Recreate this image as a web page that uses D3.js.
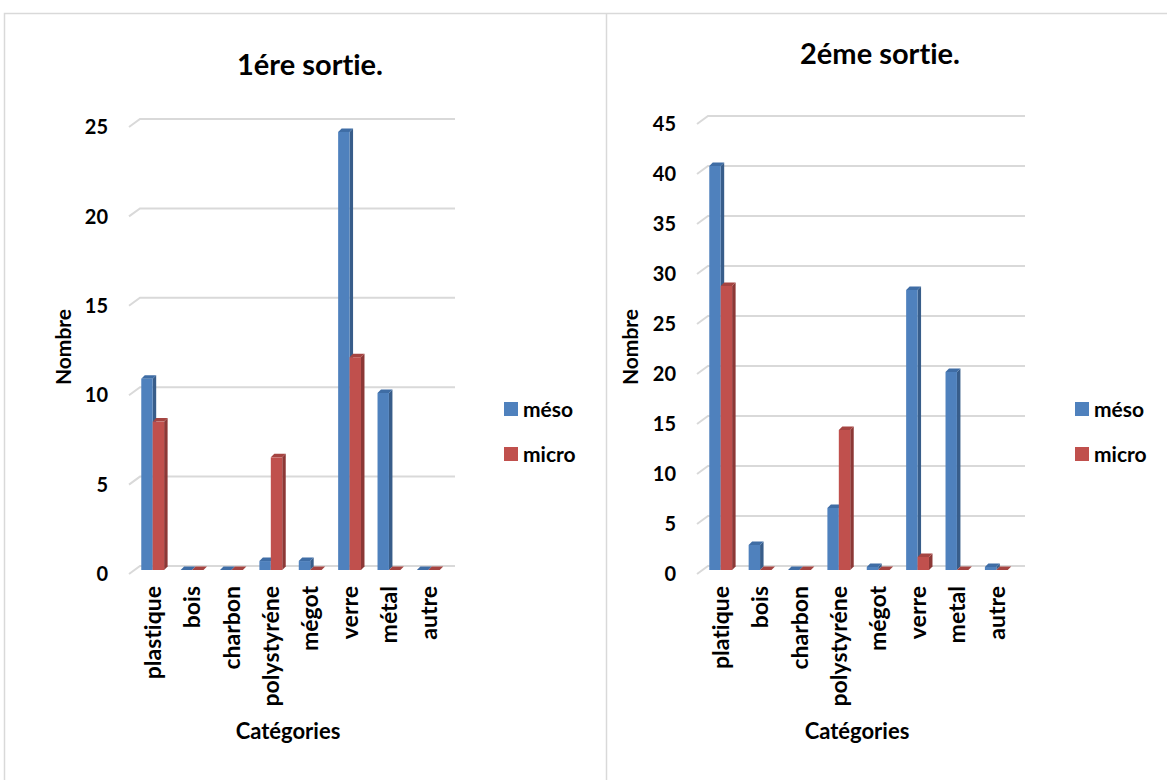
<!DOCTYPE html>
<meta charset="utf-8">
<style>
body{ margin:0; background:#fff; }
text{ font-family: Lato, "Open Sans", sans-serif; font-weight: bold; fill:#000; font-variant-ligatures: none; }
</style>
<body>
<svg id="chart" width="1167" height="780"></svg>
<script src="https://cdn.jsdelivr.net/npm/d3@7"></script>
<script>
// two 3D-ish clustered bar charts, side by side

var categories1 = ["plastique", "bois", "charbon", "polystyréne", "mégot", "verre", "métal", "autre"];
var meso1 = [10.7, 0, 0, 0.5, 0.5, 24.5, 9.9, 0];
var micro1 = [8.3, 0, 0, 6.3, 0, 11.9, 0, 0];
var ticks1 = [0, 5, 10, 15, 20, 25];

var categories2 = ["platique", "bois", "charbon", "polystyréne", "mégot", "verre", "metal", "autre"];
var meso2 = [40.4, 2.5, 0, 6.2, 0.3, 28, 19.8, 0.3];
var micro2 = [28.4, 0, 0, 14, 0, 1.3, 0, 0];
var ticks2 = [0, 5, 10, 15, 20, 25, 30, 35, 40, 45];

var seriesNames = ["méso", "micro"];
var colors = ["#4F81BD", "#C0504D"];
var sideColors = ["#385D8A", "#8C3836"];
var topColors = ["#3F6DA5", "#A54441"];

var svg = d3.select("#chart");

// panel frames
svg.append("path").attr("d", "M4.5,780 V13.5 H1167").attr("fill", "none").attr("stroke", "#d9d9d9").attr("stroke-width", 1.5);
svg.append("line").attr("x1", 606.5).attr("x2", 606.5).attr("y1", 13).attr("y2", 780).attr("stroke", "#d9d9d9").attr("stroke-width", 1.5);

function drawChart(opt){
	var g = svg.append("g");
	var x = d3.scaleBand().domain(opt.cats).range(opt.xr).paddingInner(0.42).paddingOuter(0.21);
	var x1 = d3.scaleBand().domain(seriesNames).range([0, x.bandwidth()]);
	var y = d3.scaleLinear().domain([0, opt.max]).range([570, 570 - opt.max * opt.unit]);

	var gdx = 11, gdy = 8, bdx = 3.5, bdy = 3.5;

	// gridlines (back wall, slanted start)
	g.selectAll(".grid").data(opt.ticks).enter().append("path")
		.attr("fill", "none").attr("stroke", "#d9d9d9").attr("stroke-width", 2)
		.attr("d", function(d){
			var yy = y(d) - 4;
			return "M" + opt.gx0 + "," + (yy + gdy) + " L" + (opt.gx0 + gdx) + "," + yy + " H" + opt.gx1;
		});

	// tick labels
	g.selectAll(".tl").data(opt.ticks).enter().append("text")
		.attr("x", opt.tlX).attr("y", function(d){ return y(d) + 4; })
		.attr("dy", "0.36em").attr("text-anchor", "end")
		.style("font-size", "20px").text(function(d){ return d; });

	var rows = [];
	opt.cats.forEach(function(c, i){
		rows.push({cat: c, s: 0, v: opt.meso[i]});
		rows.push({cat: c, s: 1, v: opt.micro[i]});
	});

	var bars = g.selectAll(".bar").data(rows).enter().append("g");
	bars.each(function(d){
		var b = d3.select(this);
		var x0 = x(d.cat) + x1(seriesNames[d.s]);
		var w = x1.bandwidth();
		var yt = y(d.v), yb = y(0);
		// side
		b.append("path").attr("fill", sideColors[d.s])
			.attr("d", "M" + (x0 + w) + "," + yb + " L" + (x0 + w + bdx) + "," + (yb - bdy) + " L" + (x0 + w + bdx) + "," + (yt - bdy) + " L" + (x0 + w) + "," + yt + "Z");
		// top
		b.append("path").attr("fill", topColors[d.s])
			.attr("d", "M" + x0 + "," + yt + " L" + (x0 + bdx) + "," + (yt - bdy) + " L" + (x0 + w + bdx) + "," + (yt - bdy) + " L" + (x0 + w) + "," + yt + "Z");
		// front
		b.append("rect").attr("x", x0).attr("y", yt).attr("width", w).attr("height", yb - yt)
			.attr("fill", colors[d.s]);
	});

	// category labels
	g.selectAll(".cl").data(opt.cats).enter().append("text")
		.attr("transform", function(d){ return "translate(" + (x(d) + x.bandwidth() / 2) + ",586) rotate(-90)"; })
		.attr("dy", "0.36em").attr("text-anchor", "end")
		.style("font-size", "23px").text(function(d){ return d; });

	// titles
	g.append("text").attr("x", opt.titleX).attr("y", opt.titleY).attr("text-anchor", "middle")
		.style("font-size", "29px").text(opt.title);
	g.append("text").attr("transform", "translate(" + opt.ytX + ",347) rotate(-90)")
		.attr("dy", "0.36em").attr("text-anchor", "middle").style("font-size", "21px").text("Nombre");
	g.append("text").attr("x", opt.xtX).attr("y", 739).attr("text-anchor", "middle")
		.style("font-size", "22px").text("Catégories");

	// legend
	var lg = g.selectAll(".lg").data(seriesNames).enter().append("g")
		.attr("transform", function(d, i){ return "translate(" + opt.legX + "," + (409 + i * 45) + ")"; });
	lg.append("rect").attr("x", 0).attr("y", -7).attr("width", 14).attr("height", 14)
		.attr("fill", function(d, i){ return colors[i]; });
	lg.append("text").attr("x", 19).attr("dy", "0.36em").style("font-size", "21px").text(function(d){ return d; });
}

drawChart({cats: categories1, meso: meso1, micro: micro1, ticks: ticks1, max: 25, unit: 17.88,
	xr: [133, 448], gx0: 129, gx1: 455, tlX: 108, title: "1ére sortie.", titleX: 310, titleY: 75,
	ytX: 63, xtX: 288, legX: 504});
drawChart({cats: categories2, meso: meso2, micro: micro2, ticks: ticks2, max: 45, unit: 10,
	xr: [701, 1016], gx0: 697, gx1: 1025, tlX: 676, title: "2éme sortie.", titleX: 880, titleY: 64,
	ytX: 630, xtX: 857, legX: 1075});
</script>
</body>
